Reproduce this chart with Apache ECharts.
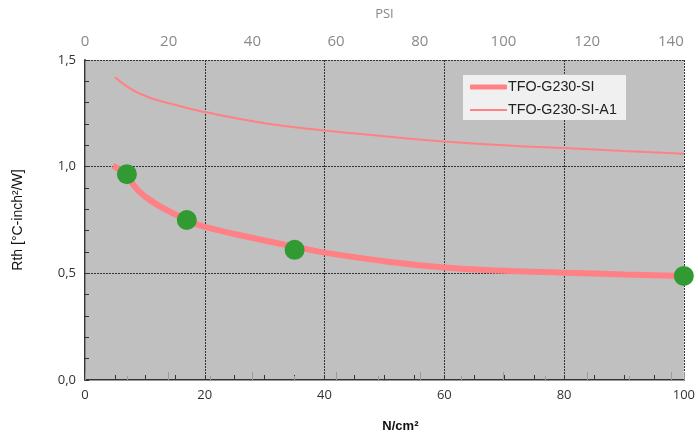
<!DOCTYPE html>
<html>
<head>
<meta charset="utf-8">
<script src="https://cdn.jsdelivr.net/npm/echarts@6/dist/echarts.min.js"></script>
<style>
  html, body { margin: 0; padding: 0; background: #fff; }
  #chart { width: 698px; height: 438px; }
</style>
</head>
<body>
<div id="chart"></div>
<script>
  // data (x in N/cm², y in °C-inch²/W)
  var seriesNames = ['TFO-G230-SI', 'TFO-G230-SI-A1'];
  var siCurve = [[4.7, 1.005], [6.6, 0.965], [10, 0.86], [17, 0.75], [20, 0.718], [30, 0.654],
    [35, 0.625], [40, 0.597], [50, 0.557], [60, 0.527], [70, 0.512], [80, 0.503], [90, 0.495], [100, 0.488]];
  var a1Curve = [[5, 1.42], [9, 1.344], [15, 1.29], [20, 1.256], [30, 1.204], [40, 1.17], [50, 1.143],
    [60, 1.118], [70, 1.10], [80, 1.087], [90, 1.073], [100, 1.061]];
  var measured = [[7, 0.965], [17, 0.75], [35, 0.61], [100, 0.488]];
  var yTicks = [0, 0.5, 1.0, 1.5];
  var psiMax = 143.1; // top axis end, as drawn

  var chart = echarts.init(document.getElementById('chart'));
  var lineColor = '#ff8085';
  var labelFont = 'Open Sans';

  // one legend per entry so each icon gets its own thickness
  function legendFor(name, top, h) {
    return {
      orient: 'vertical',
      left: 470, top: top, z: 20,
      padding: 0,
      icon: 'roundRect',
      itemWidth: 37, itemHeight: h,
      itemStyle: { color: lineColor },
      textStyle: { fontFamily: 'Liberation Sans', fontSize: 14.3, color: '#222', padding: [0, 0, 0, -4] },
      data: [name]
    };
  }

  chart.setOption({
    animation: false,
    grid: {
      left: 85, top: 60, right: 11, bottom: 57,
      show: true, backgroundColor: '#c0c0c0', borderWidth: 0
    },
    graphic: [{
      type: 'rect', left: 463, top: 75, z: 3,
      shape: { width: 163, height: 45 },
      style: { fill: '#f0f0f0' }
    }],
    legend: [legendFor(seriesNames[0], 80, 5), legendFor(seriesNames[1], 103, 2)],
    xAxis: [{
      type: 'value', position: 'bottom',
      min: 0, max: 100, interval: 20,
      name: 'N/cm²', nameLocation: 'middle', nameGap: 40,
      nameTextStyle: { fontFamily: 'Liberation Sans', fontWeight: 'bold', fontSize: 13, color: '#111', padding: [0, 0, 0, 32] },
      axisLine: { show: true, lineStyle: { color: '#333', width: 2 } },
      axisTick: { show: true, inside: true, length: 5, lineStyle: { color: '#333' } },
      minorTick: { show: true, splitNumber: 4, length: 5, lineStyle: { color: '#333' } },
      axisLabel: { fontFamily: labelFont, fontSize: 13, color: '#333', margin: 9 },
      splitLine: { show: true, lineStyle: { color: '#333', type: [2, 1], width: 1 } }
    }, {
      type: 'value', position: 'top',
      min: 0, max: psiMax, interval: 20,
      name: 'PSI', nameLocation: 'middle', nameGap: 39,
      nameTextStyle: { fontFamily: labelFont, fontSize: 13, color: '#888', padding: [0, 0, 0, 0] },
      axisLine: { show: true, lineStyle: { color: '#9a9a9a', width: 1 } },
      axisTick: { show: true, length: 8, lineStyle: { color: '#9a9a9a' } },
      minorTick: { show: true, splitNumber: 2, length: 4, lineStyle: { color: '#9a9a9a' } },
      axisLabel: { fontFamily: labelFont, fontSize: 15, color: '#8a8a8a', margin: 11, showMaxLabel: false },
      splitLine: { show: false }
    }],
    yAxis: [{
      type: 'value',
      min: 0, max: 1.5, interval: 0.5,
      name: 'Rth [°C-inch²/W]', nameLocation: 'middle', nameGap: 60, nameRotate: 90,
      nameTextStyle: { fontFamily: 'Liberation Sans', fontSize: 14, color: '#111' },
      axisLine: { show: true, lineStyle: { color: '#333', width: 2 } },
      axisTick: { show: true, inside: true, length: 4, lineStyle: { color: '#333' } },
      minorTick: { show: true, splitNumber: 5, length: 4, lineStyle: { color: '#333' } },
      axisLabel: {
        fontFamily: labelFont, fontSize: 13, margin: 9,
        formatter: function (v) { return v.toFixed(1).replace('.', ','); },
        color: function (v) { return v === yTicks[3] ? '#2f5878' : '#333'; }
      },
      splitLine: { show: true, lineStyle: { color: '#333', type: [2, 1], width: 1 } }
    }, {
      type: 'value', position: 'right',
      min: 0, max: 1.5, interval: 0.5,
      axisLine: { show: true, lineStyle: { color: '#8a8a8a', width: 1 } },
      axisTick: { show: false }, axisLabel: { show: false }, splitLine: { show: false }
    }],
    series: [{
      name: seriesNames[1],
      type: 'line', smooth: true, symbol: 'none',
      lineStyle: { color: lineColor, width: 2 },
      itemStyle: { color: lineColor },
      data: a1Curve
    }, {
      name: seriesNames[0],
      type: 'line', smooth: true, symbol: 'none',
      lineStyle: { color: lineColor, width: 6 },
      itemStyle: { color: lineColor },
      data: siCurve
    }, {
      name: 'measured',
      type: 'scatter',
      symbolSize: 20,
      itemStyle: { color: '#329a32', opacity: 1 },
      data: measured,
      z: 5
    }]
  });
</script>
</body>
</html>
